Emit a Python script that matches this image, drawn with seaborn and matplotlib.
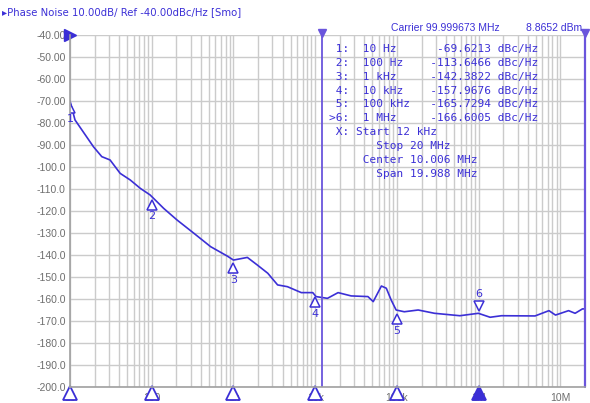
import numpy as np
import pandas as pd
import seaborn as sns
import matplotlib.pyplot as plt
from matplotlib.ticker import LogLocator, FixedLocator, NullFormatter

# trace (log10 of offset frequency, dBc/Hz)
log_freq = [1.0, 1.061, 1.287, 1.389, 1.49, 1.614, 1.737, 1.86, 1.98, 2.146,
            2.31, 2.515, 2.72, 2.925, 3.0, 3.17, 3.29, 3.42, 3.54, 3.66,
            3.83, 3.97, 4.01, 4.15, 4.28, 4.44, 4.645, 4.71, 4.81, 4.87,
            4.93, 4.99, 5.09, 5.26, 5.46, 5.77, 5.996, 6.14, 6.28, 6.69,
            6.86, 6.94, 7.1, 7.18, 7.27, 7.301]
noise = [-70.0, -78.6, -90.8, -95.3, -96.8, -102.9, -105.9, -109.7, -112.7, -118.8,
         -124.1, -130.1, -136.2, -140.5, -142.3, -141.1, -144.5, -148.3, -153.6, -154.4,
         -157.1, -157.1, -158.9, -159.7, -157.1, -158.6, -158.9, -161.2, -154.1, -155.1,
         -160.5, -165.0, -165.8, -165.0, -166.5, -167.6, -166.5, -168.3, -167.6, -167.7,
         -165.3, -167.3, -165.3, -166.5, -164.5, -164.5]

marker_freq = [10, 100, 1e3, 1e4, 1e5, 1e6]
marker_val = [-69.6213, -113.6466, -142.3822, -157.9676, -165.7294, -166.6005]
marker_lbl = ["1", "2", "3", "4", "5", "6"]
readout = [" 1:  10 Hz      -69.6213 dBc/Hz",
           " 2:  100 Hz    -113.6466 dBc/Hz",
           " 3:  1 kHz     -142.3822 dBc/Hz",
           " 4:  10 kHz    -157.9676 dBc/Hz",
           " 5:  100 kHz   -165.7294 dBc/Hz",
           ">6:  1 MHz     -166.6005 dBc/Hz",
           " X: Start 12 kHz",
           "       Stop 20 MHz",
           "     Center 10.006 MHz",
           "       Span 19.988 MHz"]
yticks = list(range(-40, -201, -10))
ytick_lbl = [f"{v:.2f}" if v > -100 else f"{v:.1f}" for v in yticks]
xticks = [10, 100, 1e3, 1e4, 1e5, 1e6, 1e7]
xtick_lbl = ["10", "100", "1k", "10k", "100k", "1M", "10M"]
start_f, stop_f = 12e3, 20e6

blue = "#3b2fd6"
purple = "#6a55dc"
grey = "#6e6e6e"

df = pd.DataFrame({"freq": 10 ** np.array(log_freq), "noise": noise})

sns.set_style("white")
fig = plt.figure(figsize=(5.9, 4.03), dpi=100)
ax = fig.add_axes([70 / 590, 16 / 403, 515 / 590, 352 / 403])

sns.lineplot(data=df, x="freq", y="noise", ax=ax, color=blue, lw=1.2)
ax.set_xscale("log")
ax.set_xlim(10, stop_f)
ax.set_ylim(-200, -40)

ax.xaxis.set_major_locator(FixedLocator(xticks))
ax.xaxis.set_minor_locator(LogLocator(base=10, subs=np.arange(2, 10)))
ax.xaxis.set_minor_formatter(NullFormatter())
ax.set_xticks(xticks, xtick_lbl)
ax.set_yticks(yticks, ytick_lbl)
ax.tick_params(axis="both", length=0, labelsize=7.5, labelcolor=grey, pad=3)
ax.tick_params(axis="x", pad=4)
for t in ax.get_yticklabels() + ax.get_xticklabels():
    t.set_fontfamily("Liberation Sans")
ax.grid(which="both", axis="x", color="#cbcbcb", lw=1.0)
ax.grid(which="major", axis="y", color="#cbcbcb", lw=1.0)
ax.set_xlabel("")
ax.set_ylabel("")
for side in ["top", "right"]:
    ax.spines[side].set_visible(False)
for side in ["left", "bottom"]:
    ax.spines[side].set_color("#a0a0a0")
    ax.spines[side].set_linewidth(1.2)

# start / stop lines of the span
ax.axvline(start_f, color=purple, lw=1.3)
ax.axvline(stop_f, color=purple, lw=1.6, clip_on=False)
ax.plot([start_f], [-39.3], marker="v", color=purple, ms=6, clip_on=False)
ax.plot([stop_f], [-39.3], marker="v", color=purple, ms=6, clip_on=False)
ax.plot([10], [-40], marker=">", color=blue, ms=9, clip_on=False)

# marker flags on the trace
for i, (f, v, lb) in enumerate(zip(marker_freq, marker_val, marker_lbl)):
    if i == 5:
        ax.plot([f], [v + 3.5], marker="v", mfc="white", mec=blue, ms=7, mew=1.1)
        ax.text(f, v + 6.5, lb, color=blue, ha="center", va="bottom", fontsize=8)
    else:
        ax.plot([f], [v - 3.5], marker="^", mfc="white", mec=blue, ms=7, mew=1.1)
        ax.text(f, v - 6.5, lb, color=blue, ha="center", va="top", fontsize=8)
    ax.plot([f], [-202.5], marker="^", mfc=blue if i == 5 else "white",
            mec=blue, ms=10, mew=1.3, clip_on=False)

# marker readout table
for k, line in enumerate(readout):
    ax.text(0.503, 0.975 - k * 0.0395, line, transform=ax.transAxes, color=blue,
            fontsize=8, family="DejaVu Sans Mono", va="top", ha="left")
ax.text(0.835, 1.005, "Carrier 99.999673 MHz", transform=ax.transAxes, color=blue,
        fontsize=7.5, ha="right", va="bottom", family="Liberation Sans")
ax.text(0.995, 1.005, "8.8652 dBm", transform=ax.transAxes, color=blue,
        fontsize=7.5, ha="right", va="bottom", family="Liberation Sans")

fig.text(2 / 590, 1 - 12 / 403, "\u25b8Phase Noise 10.00dB/ Ref -40.00dBc/Hz [Smo]",
         color=blue, fontsize=7.3, va="center", ha="left", family="DejaVu Sans")

fig.savefig("out.png", dpi=100)
